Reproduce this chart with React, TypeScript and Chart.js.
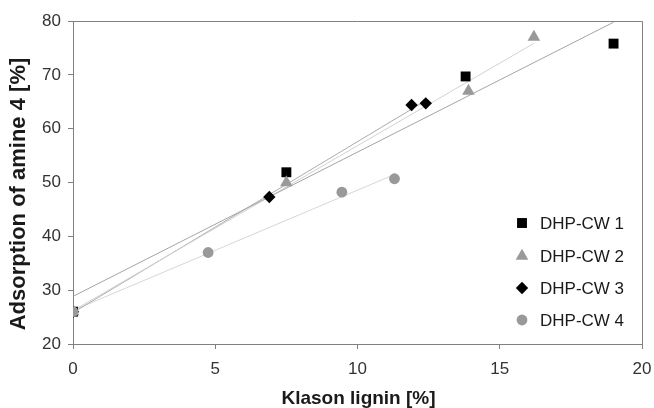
import React, { useEffect, useRef } from 'react';
import { Chart, registerables } from 'chart.js';

Chart.register(...registerables);

const seriesNames = ['DHP-CW 1', 'DHP-CW 2', 'DHP-CW 3', 'DHP-CW 4'];
const cw1X = [0, 7.5, 13.8, 19.0];
const cw1Y = [26, 51.9, 69.7, 75.8];
const cw2X = [0, 7.5, 13.9, 16.2];
const cw2Y = [26, 50.0, 67.0, 77.0];
const cw3X = [0, 6.9, 11.9, 12.4];
const cw3Y = [26, 47.3, 64.4, 64.7];
const cw4X = [0, 4.75, 9.45, 11.3];
const cw4Y = [26, 37.0, 48.2, 50.7];
const xTicks = [0, 5, 10, 15, 20];
const yTicks = [20, 30, 40, 50, 60, 70, 80];
const xTitle = 'Klason lignin [%]';
const yTitle = 'Adsorption of amine 4 [%]';

const FONT = '"Liberation Sans", Arial, sans-serif';

type Style = { shape: 'rect' | 'triangle' | 'rectRot' | 'circle'; radius: number; color: string; line: string };
const styles: Style[] = [
  { shape: 'rect', radius: 7, color: '#000000', line: '#a4a4a4' },
  { shape: 'triangle', radius: 7.3, color: '#999999', line: '#d2d2d2' },
  { shape: 'rectRot', radius: 6.2, color: '#000000', line: '#ababab' },
  { shape: 'circle', radius: 5.4, color: '#999999', line: '#d6d6d6' },
];

function pts(xs: number[], ys: number[]) {
  return xs.map((x, i) => ({ x, y: ys[i] }));
}

// least-squares trend line over the data range (as in the original chart)
function trend(xs: number[], ys: number[]) {
  const n = xs.length;
  const mx = xs.reduce((a, b) => a + b, 0) / n;
  const my = ys.reduce((a, b) => a + b, 0) / n;
  let sxy = 0;
  let sxx = 0;
  for (let i = 0; i < n; i++) {
    sxy += (xs[i] - mx) * (ys[i] - my);
    sxx += (xs[i] - mx) * (xs[i] - mx);
  }
  const b = sxy / sxx;
  const a = my - b * mx;
  const x0 = Math.min(...xs);
  const x1 = Math.max(...xs);
  return [
    { x: x0, y: a + b * x0 },
    { x: x1, y: a + b * x1 },
  ];
}

function drawShape(ctx: CanvasRenderingContext2D, s: Style, x: number, y: number) {
  const r = s.radius;
  ctx.beginPath();
  if (s.shape === 'rect') {
    const h = Math.SQRT1_2 * r;
    ctx.rect(x - h, y - h, 2 * h, 2 * h);
  } else if (s.shape === 'triangle') {
    ctx.moveTo(x, y - r);
    ctx.lineTo(x + r * Math.sin(Math.PI * 2 / 3), y + r / 2);
    ctx.lineTo(x - r * Math.sin(Math.PI * 2 / 3), y + r / 2);
    ctx.closePath();
  } else if (s.shape === 'rectRot') {
    ctx.moveTo(x - r, y);
    ctx.lineTo(x, y - r);
    ctx.lineTo(x + r, y);
    ctx.lineTo(x, y + r);
    ctx.closePath();
  } else {
    ctx.arc(x, y, r, 0, Math.PI * 2);
  }
  ctx.fillStyle = s.color;
  ctx.fill();
}

const decorPlugin = {
  id: 'decor',
  afterDraw(chart: any) {
    const ctx: CanvasRenderingContext2D = chart.ctx;
    const { left, right, top, bottom } = chart.chartArea;
    ctx.save();
    // frame
    ctx.strokeStyle = '#808080';
    ctx.lineWidth = 1;
    ctx.beginPath();
    ctx.moveTo(left, top + 0.5);
    ctx.lineTo(right + 0.5, top + 0.5);
    ctx.lineTo(right + 0.5, bottom);
    ctx.stroke();

    // legend
    const legendY = [223, 256, 288, 320];
    ctx.font = `17px ${FONT}`;
    ctx.textAlign = 'left';
    ctx.textBaseline = 'middle';
    seriesNames.forEach((name, i) => {
      drawShape(ctx, styles[i], 522, legendY[i]);
      ctx.fillStyle = '#1a1a1a';
      ctx.fillText(name, 540, legendY[i] + 1);
    });

    // axis titles
    ctx.fillStyle = '#1a1a1a';
    ctx.textAlign = 'center';
    ctx.textBaseline = 'middle';
    ctx.font = `bold 19px ${FONT}`;
    ctx.fillText(xTitle, (left + right) / 2 + 1, 399);
    ctx.translate(19, 194);
    ctx.rotate(-Math.PI / 2);
    ctx.font = `bold 22px ${FONT}`;
    ctx.fillText(yTitle, 0, 0);
    ctx.restore();
  },
};

export default function App() {
  const ref = useRef<HTMLCanvasElement>(null);
  useEffect(() => {
    document.body.style.margin = '0';
    const canvas = ref.current;
    if (!canvas) return;
    const series = [pts(cw1X, cw1Y), pts(cw2X, cw2Y), pts(cw3X, cw3Y), pts(cw4X, cw4Y)];
    const raw = [
      [cw1X, cw1Y],
      [cw2X, cw2Y],
      [cw3X, cw3Y],
      [cw4X, cw4Y],
    ];
    const lineSets = raw.map(([xs, ys], i) => ({
      type: 'line' as const,
      label: seriesNames[i] + ' trend',
      data: trend(xs, ys),
      borderColor: styles[i].line,
      borderWidth: 1,
      pointRadius: 0,
      showLine: true,
      fill: false,
      order: 10 + i,
    }));
    const markerSets = series.map((d, i) => ({
      type: 'scatter' as const,
      label: seriesNames[i],
      data: d,
      pointStyle: styles[i].shape,
      pointRadius: styles[i].radius,
      pointBackgroundColor: styles[i].color,
      pointBorderColor: styles[i].color,
      pointBorderWidth: 0,
      showLine: false,
      order: 3 - i,
    }));
    const chart = new Chart(canvas, {
      type: 'scatter',
      data: { datasets: [...lineSets, ...markerSets] as any },
      plugins: [decorPlugin],
      options: {
        animation: false,
        responsive: false,
        maintainAspectRatio: false,
        layout: { padding: { top: 21, right: 12, left: 0, bottom: 0 } },
        plugins: { legend: { display: false }, tooltip: { enabled: false } },
        scales: {
          x: {
            type: 'linear',
            min: 0,
            max: 20,
            afterBuildTicks: (s: any) => {
              s.ticks = xTicks.map((v) => ({ value: v }));
            },
            afterFit: (s: any) => {
              s.height = 64;
              s.paddingLeft = 0;
              s.paddingRight = 0;
            },
            grid: { drawOnChartArea: false, drawTicks: true, tickLength: 5, color: '#808080' },
            border: { display: true, color: '#808080', width: 1 },
            ticks: { padding: 10, color: '#333333', font: { family: FONT, size: 17 }, maxRotation: 0 },
          },
          y: {
            type: 'linear',
            min: 20,
            max: 80,
            afterBuildTicks: (s: any) => {
              s.ticks = yTicks.map((v) => ({ value: v }));
            },
            afterFit: (s: any) => {
              s.width = 73;
              s.paddingTop = 0;
              s.paddingBottom = 0;
            },
            grid: { drawOnChartArea: false, drawTicks: true, tickLength: 5, color: '#808080' },
            border: { display: true, color: '#808080', width: 1 },
            ticks: { padding: 7, color: '#333333', font: { family: FONT, size: 17 } },
          },
        },
      },
    });
    return () => chart.destroy();
  }, []);
  return (
    <div style={{ width: 654, height: 408, overflow: 'hidden' }}>
      <canvas ref={ref} width={654} height={408} style={{ display: 'block' }} />
    </div>
  );
}
